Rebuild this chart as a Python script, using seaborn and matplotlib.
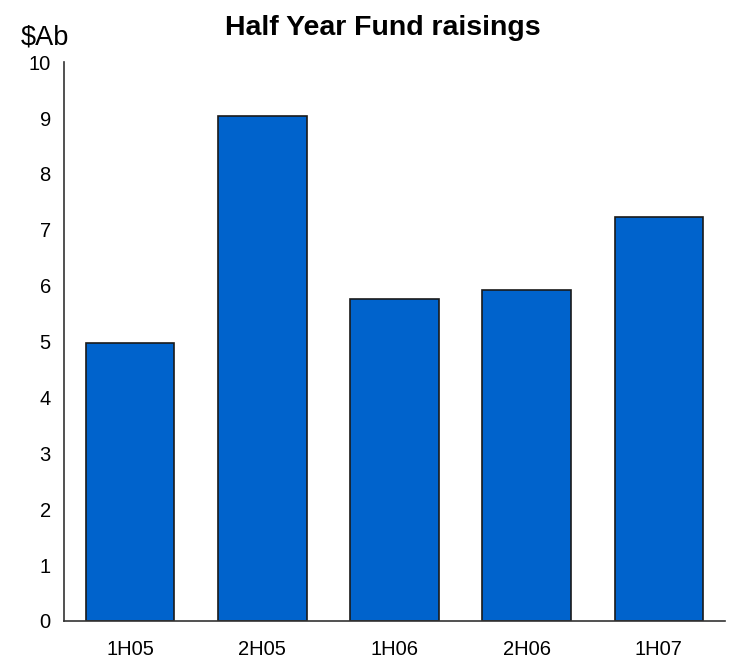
import matplotlib
matplotlib.use("Agg")
import matplotlib.pyplot as plt
import seaborn as sns
import pandas as pd

# Data
periods = ["1H05", "2H05", "1H06", "2H06", "1H07"]
raisings = [4.98, 9.04, 5.76, 5.92, 7.22]

df = pd.DataFrame({"period": periods, "raisings": raisings})

sns.set_style("white")
plt.rcParams["font.family"] = ["Liberation Sans", "DejaVu Sans"]
plt.rcParams["text.color"] = "black"

fig = plt.figure(figsize=(7.32, 6.59), dpi=100)
ax = fig.add_axes([0.0874, 0.0577, 0.903, 0.848])

sns.barplot(data=df, x="period", y="raisings", color="#0063CC", saturation=1,
            width=0.67, edgecolor="#1a1a1a", linewidth=1.2, ax=ax)

ax.set_xlim(-0.5, 4.5)
ax.set_ylim(0, 10)
ax.set_yticks(range(0, 11))
ax.set_xlabel("")
ax.set_ylabel("")
ax.tick_params(axis="both", length=0, labelsize=14.5, colors="black")
ax.tick_params(axis="x", pad=14)
ax.tick_params(axis="y", pad=9.5)

for side in ["top", "right"]:
    ax.spines[side].set_visible(False)
for side in ["left", "bottom"]:
    ax.spines[side].set_color("#333333")
    ax.spines[side].set_linewidth(1.2)

fig.text(0.5225, 0.958, "Half Year Fund raisings", ha="center", va="center",
         fontsize=20.5, fontweight="bold")
fig.text(0.0615, 0.943, r"\$Ab", ha="center", va="center", fontsize=19.5)

plt.savefig("out.png", dpi=100)
plt.close()
